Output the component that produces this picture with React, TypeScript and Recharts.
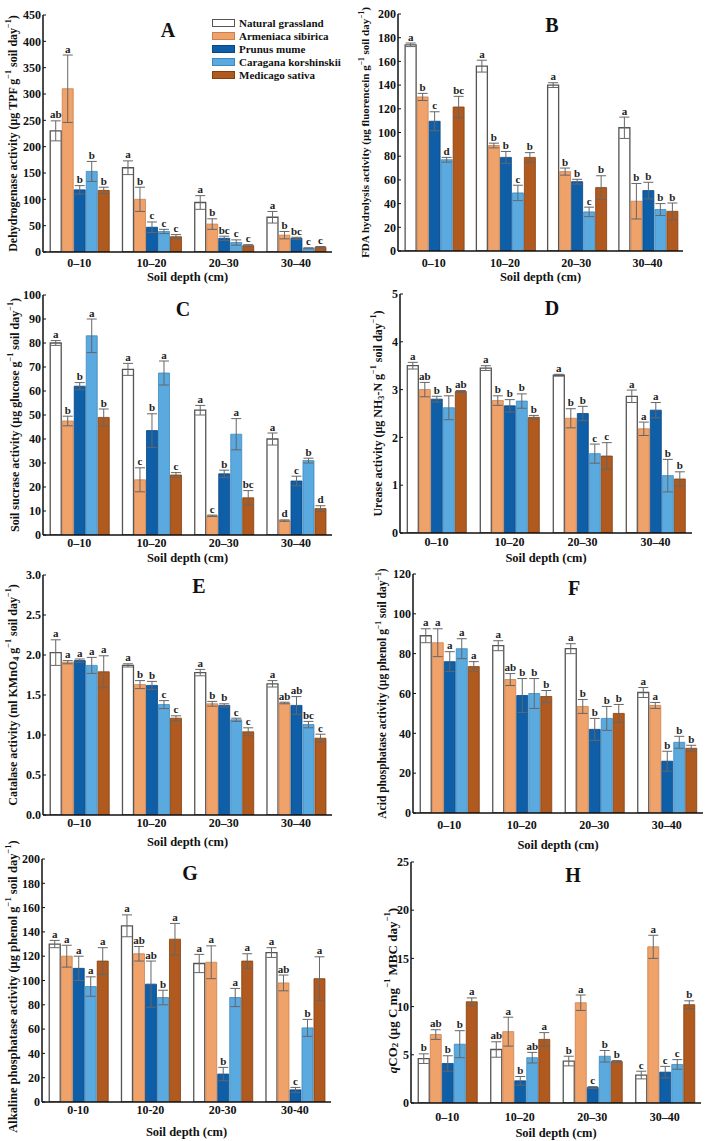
import React from "react";
import { BarChart, Bar, XAxis, YAxis, ErrorBar, LabelList } from "recharts";

// categories
const depths = ["0–10", "10–20", "20–30", "30–40"];
const depthsG = ["0-10", "10-20", "20-30", "30-40"];

const seriesNames = [
  "Natural grassland",
  "Armeniaca sibirica",
  "Prunus mume",
  "Caragana korshinskii",
  "Medicago sativa",
];
const seriesFill = ["#ffffff", "#f0a26b", "#0e5ea8", "#5aaae0", "#b05a1f"];
const seriesStroke = ["#555555", "#c9804f", "#0a4680", "#3d89bf", "#80400f"];

// A: dehydrogenase
const dhaMean = [
  [230, 160, 94, 66],
  [310, 100, 53, 32],
  [118, 47, 26, 26],
  [153, 39, 18, 7],
  [117, 29, 12, 9],
];
const dhaErr = [
  [19, 13, 13, 11],
  [64, 23, 10, 7],
  [8, 10, 4, 2],
  [19, 4, 5, 1],
  [6, 4, 2, 1.5],
];
const dhaSig = [
  ["ab", "a", "a", "a"],
  ["a", "b", "b", "b"],
  ["b", "c", "bc", "bc"],
  ["b", "c", "c", "c"],
  ["b", "c", "c", "c"],
];

// B: FDA hydrolysis
const fdaMean = [
  [174, 156, 140, 104],
  [130, 89, 67, 42],
  [109.5, 79, 58.5, 51],
  [77, 49, 33, 35],
  [121.5, 79, 53.5, 33.5],
];
const fdaErr = [
  [1.5, 5, 2, 9],
  [3, 2, 3, 15],
  [8, 5, 2, 7],
  [2, 6.5, 4, 5],
  [9, 4, 10, 7],
];
const fdaSig = [
  ["a", "a", "a", "a"],
  ["b", "b", "b", "b"],
  ["c", "b", "b", "b"],
  ["d", "c", "c", "b"],
  ["bc", "b", "b", "b"],
];

// C: sucrase
const sucMean = [
  [80, 69, 52, 40],
  [47.5, 23, 8, 6],
  [62, 43.5, 25.5, 22.5],
  [83, 67.5, 42, 31],
  [49, 25, 15.5, 11],
];
const sucErr = [
  [1, 2.5, 2, 2.5],
  [2, 5, 0.3, 0.3],
  [1.5, 7, 1.5, 2],
  [7, 5, 6.5, 1],
  [3.5, 1, 3, 1.2],
];
const sucSig = [
  ["a", "a", "a", "a"],
  ["b", "c", "c", "d"],
  ["b", "b", "b", "c"],
  ["a", "a", "a", "b"],
  ["b", "c", "bc", "d"],
];

// D: urease
const ureMean = [
  [3.5, 3.45, 3.3, 2.86],
  [3.0, 2.77, 2.4, 2.18],
  [2.8, 2.66, 2.5, 2.57],
  [2.62, 2.76, 1.66, 1.2],
  [2.96, 2.42, 1.61, 1.13],
];
const ureErr = [
  [0.07, 0.05, 0.02, 0.13],
  [0.15, 0.1, 0.2, 0.14],
  [0.06, 0.13, 0.15, 0.16],
  [0.25, 0.15, 0.2, 0.34],
  [0.02, 0.04, 0.28, 0.15],
];
const ureSig = [
  ["a", "a", "a", "a"],
  ["ab", "b", "b", "a"],
  ["b", "b", "b", "a"],
  ["b", "b", "c", "b"],
  ["ab", "b", "c", "b"],
];

// E: catalase
const catMean = [
  [2.03, 1.87, 1.78, 1.64],
  [1.91, 1.63, 1.39, 1.4],
  [1.93, 1.62, 1.37, 1.37],
  [1.87, 1.38, 1.19, 1.13],
  [1.79, 1.21, 1.04, 0.96],
];
const catErr = [
  [0.16, 0.02, 0.04, 0.04],
  [0.02, 0.05, 0.03, 0.01],
  [0.02, 0.05, 0.02, 0.11],
  [0.1, 0.05, 0.02, 0.04],
  [0.2, 0.03, 0.05, 0.05],
];
const catSig = [
  ["a", "a", "a", "a"],
  ["a", "b", "b", "ab"],
  ["a", "b", "b", "ab"],
  ["a", "c", "c", "bc"],
  ["a", "c", "c", "c"],
];

// F: acid phosphatase
const acpMean = [
  [89, 84, 82.5, 60.5],
  [85.5, 67, 53.5, 54],
  [76, 59, 42, 26],
  [82.5, 60, 47.5, 35.5],
  [73.5, 58.5, 50, 32.5],
];
const acpErr = [
  [3.5, 2.5, 2.5, 2.5],
  [7, 3, 3.5, 1.5],
  [5, 8.5, 5.5, 5],
  [5, 7.5, 6, 3],
  [2.5, 3, 4.5, 1.5],
];
const acpSig = [
  ["a", "a", "a", "a"],
  ["a", "ab", "b", "a"],
  ["a", "b", "b", "b"],
  ["a", "b", "b", "b"],
  ["a", "b", "b", "b"],
];

// G: alkaline phosphatase
const alpMean = [
  [130, 145, 114, 123],
  [120, 122, 115, 98],
  [110, 97, 23, 10],
  [95, 86, 86, 61],
  [116, 134, 116, 101.5],
];
const alpErr = [
  [3, 9, 7.5, 4],
  [9, 6, 13.5, 6.5],
  [10, 19, 5.5, 2],
  [8, 6, 7.5, 7],
  [11, 13, 6, 18],
];
const alpSig = [
  ["a", "a", "a", "a"],
  ["a", "ab", "a", "ab"],
  ["a", "ab", "b", "c"],
  ["a", "b", "a", "b"],
  ["a", "a", "a", "a"],
];

// H: qCO2
const qcoMean = [
  [4.6, 5.55, 4.35, 2.9],
  [7.1, 7.4, 10.4, 16.2],
  [4.1, 2.3, 1.6, 3.2],
  [6.1, 4.7, 4.85, 4.0],
  [10.5, 6.6, 4.3, 10.2],
];
const qcoErr = [
  [0.5, 0.8, 0.5, 0.4],
  [0.5, 1.5, 0.8, 1.2],
  [0.8, 0.45, 0.1, 0.6],
  [1.4, 0.55, 0.6, 0.5],
  [0.4, 0.7, 0.1, 0.4],
];
const qcoSig = [
  ["b", "ab", "b", "c"],
  ["ab", "a", "a", "a"],
  ["b", "b", "c", "c"],
  ["b", "ab", "b", "c"],
  ["a", "a", "b", "b"],
];

type Part = [string, "n" | "sup" | "sub" | "i"];

const FONT = "'Liberation Serif', 'Times New Roman', serif";

function buildRows(cats: string[], mean: number[][], err: number[][], sig: string[][]) {
  return cats.map((depth, i) => {
    const row: Record<string, string | number> = { depth };
    mean.forEach((s, k) => {
      row[`m${k}`] = s[i];
      row[`e${k}`] = err[k][i];
      row[`s${k}`] = sig[k][i];
    });
    return row;
  });
}

function RichText({ parts, fs }: { parts: Part[]; fs: number }) {
  let shift = 0;
  return (
    <>
      {parts.map(([t, kind], i) => {
        const target = kind === "sup" ? -fs * 0.38 : kind === "sub" ? fs * 0.25 : 0;
        const dy = target - shift;
        shift = target;
        return (
          <tspan
            key={i}
            dy={dy}
            fontSize={kind === "sup" || kind === "sub" ? fs * 0.68 : fs}
            fontStyle={kind === "i" ? "italic" : "normal"}
          >
            {t}
          </tspan>
        );
      })}
    </>
  );
}

function YTitle(props: any) {
  const { viewBox, parts, localX, fs, shiftY } = props;
  const cy = viewBox.y + viewBox.height / 2 + (shiftY || 0);
  return (
    <text
      x={localX}
      y={cy}
      transform={`rotate(-90, ${localX}, ${cy})`}
      textAnchor="middle"
      dominantBaseline="central"
      fontFamily={FONT}
      fontWeight="bold"
      fontSize={fs}
      fill="#111"
    >
      <RichText parts={parts} fs={fs} />
    </text>
  );
}

function XTitle(props: any) {
  const { viewBox, dy } = props;
  return (
    <text
      x={viewBox.x + viewBox.width / 2}
      y={viewBox.y + dy}
      textAnchor="middle"
      dominantBaseline="central"
      fontFamily={FONT}
      fontWeight="bold"
      fontSize={12.5}
      fill="#111"
    >
      Soil depth (cm)
    </text>
  );
}

const sigLabel = (k: number) => (props: any) => {
  const { x, y, width, height, value, index, errs } = props;
  const err = errs[k][index];
  const mean = props.means[k][index];
  const per = mean > 0 ? Number(height) / mean : 0;
  const top = Number(y) - err * per;
  return (
    <text
      x={Number(x) + Number(width) / 2}
      y={top - 2.5}
      textAnchor="middle"
      fontFamily={FONT}
      fontWeight="bold"
      fontSize={11}
      fill="#222"
    >
      {value}
    </text>
  );
};

type PanelProps = {
  letter: string;
  cats: string[];
  mean: number[][];
  err: number[][];
  sig: string[][];
  yMax: number;
  yStep: number;
  decimals?: number;
  title: Part[];
  titleFs: number;
  titleShift?: number;
  boxLeft: number;
  boxTop: number;
  plot: { l: number; t: number; r: number; b: number };
  yTitleX: number;
  tickY: number;
  xTitleY: number;
  letterPos: [number, number];
};

function Panel(p: PanelProps) {
  const rows = buildRows(p.cats, p.mean, p.err, p.sig);
  const ticks: number[] = [];
  for (let v = 0; v <= p.yMax + 1e-9; v += p.yStep) ticks.push(Math.round(v * 1000) / 1000);
  const yw = p.plot.l - p.boxLeft;
  const mt = p.plot.t - p.boxTop;
  const mr = 4;
  const height = p.xTitleY + 10 - p.boxTop;
  const xh = height - (p.plot.b - p.boxTop);
  const width = p.plot.r - p.boxLeft + mr;
  const tickFont = { fontFamily: FONT, fontWeight: "bold", fontSize: 12, fill: "#111" };

  return (
    <>
      <div style={{ position: "absolute", left: p.boxLeft, top: p.boxTop }}>
        <BarChart
          width={width}
          height={height}
          data={rows}
          margin={{ top: mt, right: mr, bottom: 0, left: 0 }}
          barCategoryGap="10%"
          barGap={1}
        >
          <XAxis
            xAxisId="top"
            orientation="top"
            dataKey="depth"
            height={0}
            tick={false}
            tickLine={false}
            axisLine={{ stroke: "#444", strokeWidth: 1.5 }}
          />
          <YAxis
            yAxisId="right"
            orientation="right"
            width={0}
            domain={[0, p.yMax]}
            tick={false}
            tickLine={false}
            axisLine={{ stroke: "#444", strokeWidth: 1.5 }}
          />
          <XAxis
            dataKey="depth"
            height={xh}
            tickLine={false}
            tickSize={0}
            tickMargin={p.tickY - p.plot.b - 4.5}
            axisLine={{ stroke: "#111", strokeWidth: 1.5 }}
            tick={tickFont}
            interval={0}
            label={<XTitle dy={p.xTitleY - p.plot.b} />}
          />
          <YAxis
            width={yw}
            domain={[0, p.yMax]}
            ticks={ticks}
            allowDataOverflow
            tickSize={-3}
            tickMargin={5}
            tickLine={{ stroke: "#111", strokeWidth: 1 }}
            axisLine={{ stroke: "#111", strokeWidth: 1.5 }}
            tick={tickFont}
            tickFormatter={(v: number) => (p.decimals ? v.toFixed(p.decimals) : String(v))}
            label={
              <YTitle
                parts={p.title}
                fs={p.titleFs}
                shiftY={p.titleShift}
                localX={p.yTitleX - p.boxLeft}
              />
            }
          />
          {seriesNames.map((name, k) => (
            <Bar
              key={name}
              dataKey={`m${k}`}
              name={name}
              fill={seriesFill[k]}
              stroke={seriesStroke[k]}
              strokeWidth={k === 0 ? 1.3 : 0.8}
              isAnimationActive={false}
            >
              <ErrorBar dataKey={`e${k}`} width={5} stroke="#666" strokeWidth={1} />
              <LabelList
                dataKey={`s${k}`}
                content={(lp: any) => sigLabel(k)({ ...lp, errs: p.err, means: p.mean })}
              />
            </Bar>
          ))}
        </BarChart>
      </div>
      <div
        style={{
          position: "absolute",
          left: p.letterPos[0] - 20,
          top: p.letterPos[1] - 12,
          width: 40,
          textAlign: "center",
          fontFamily: FONT,
          fontWeight: "bold",
          fontSize: 20,
          lineHeight: "24px",
          color: "#111",
        }}
      >
        {p.letter}
      </div>
    </>
  );
}

function LegendBox() {
  return (
    <div
      style={{
        position: "absolute",
        left: 212,
        top: 17,
        fontFamily: FONT,
        fontWeight: "bold",
        fontSize: 11,
        color: "#111",
      }}
    >
      {seriesNames.map((n, k) => (
        <div key={n} style={{ display: "flex", alignItems: "center", height: 12.9 }}>
          <div
            style={{
              width: 21,
              height: 6,
              background: seriesFill[k],
              border: `1px solid ${seriesStroke[k]}`,
              marginRight: 4,
            }}
          />
          <span>{n}</span>
        </div>
      ))}
    </div>
  );
}

export default function App() {
  return (
    <div style={{ position: "absolute", left: 0, top: 0, width: 709, height: 1141, background: "#fff" }}>
      <Panel
        letter="A"
        cats={depths}
        mean={dhaMean}
        err={dhaErr}
        sig={dhaSig}
        yMax={450}
        yStep={50}
        title={[["Dehydrogenase activity (μg TPF g", "n"], ["−1", "sup"], [" soil day", "n"], ["−1", "sup"], [")", "n"]]}
        titleFs={12}
        boxLeft={0}
        boxTop={0}
        plot={{ l: 43, t: 15, r: 332, b: 252 }}
        yTitleX={13}
        tickY={263}
        xTitleY={277}
        letterPos={[168, 30]}
      />
      <Panel
        letter="B"
        cats={depths}
        mean={fdaMean}
        err={fdaErr}
        sig={fdaSig}
        yMax={200}
        yStep={20}
        title={[["FDA hydrolysis activity (μg fluorencein g", "n"], ["−1", "sup"], [" soil  day", "n"], ["−1", "sup"], [")", "n"]]}
        titleFs={11}
        boxLeft={352}
        boxTop={0}
        plot={{ l: 398, t: 14, r: 683, b: 251 }}
        yTitleX={365}
        tickY={263}
        xTitleY={277}
        letterPos={[552, 25]}
      />
      <Panel
        letter="C"
        cats={depths}
        mean={sucMean}
        err={sucErr}
        sig={sucSig}
        yMax={100}
        yStep={10}
        title={[["Soil sucrase activity (μg glucose g", "n"], ["−1", "sup"], [" soil  day", "n"], ["−1", "sup"], [")", "n"]]}
        titleFs={12}
        boxLeft={0}
        boxTop={282}
        plot={{ l: 43, t: 295, r: 332, b: 535 }}
        yTitleX={15}
        tickY={543}
        xTitleY={558}
        letterPos={[183, 309]}
      />
      <Panel
        letter="D"
        cats={depths}
        mean={ureMean}
        err={ureErr}
        sig={ureSig}
        yMax={5}
        yStep={1}
        title={[["Urease activity (μg NH", "n"], ["3", "sub"], ["-N g", "n"], ["−1", "sup"], [" soil day", "n"], ["−1", "sup"], [")", "n"]]}
        titleFs={12}
        boxLeft={352}
        boxTop={282}
        plot={{ l: 400, t: 294, r: 692, b: 533 }}
        yTitleX={378}
        tickY={542}
        xTitleY={558}
        letterPos={[552, 308]}
      />
      <Panel
        letter="E"
        cats={depths}
        mean={catMean}
        err={catErr}
        sig={catSig}
        yMax={3}
        yStep={0.5}
        decimals={1}
        title={[["Catalase activity (ml KMnO", "n"], ["4", "sub"], [" g", "n"], ["−1", "sup"], [" soil day", "n"], ["−1", "sup"], [")", "n"]]}
        titleFs={12}
        boxLeft={0}
        boxTop={562}
        plot={{ l: 43, t: 575, r: 332, b: 815 }}
        yTitleX={13}
        tickY={823}
        xTitleY={842}
        letterPos={[199, 586]}
      />
      <Panel
        letter="F"
        cats={depths}
        mean={acpMean}
        err={acpErr}
        sig={acpSig}
        yMax={120}
        yStep={20}
        title={[["Acid phosphatase activity (μg phenol g", "n"], ["−1", "sup"], [" soil day", "n"], ["−1", "sup"], [")", "n"]]}
        titleFs={11.5}
        boxLeft={352}
        boxTop={562}
        plot={{ l: 413, t: 574, r: 703, b: 813 }}
        yTitleX={382}
        tickY={825}
        xTitleY={845}
        letterPos={[574, 588]}
      />
      <Panel
        letter="G"
        cats={depthsG}
        mean={alpMean}
        err={alpErr}
        sig={alpSig}
        yMax={200}
        yStep={20}
        title={[["Alkaline phosphatase activity (μg phenol g", "n"], ["−1", "sup"], [" soil day", "n"], ["−1", "sup"], [")", "n"]]}
        titleFs={12.5}
        titleShift={6}
        boxLeft={0}
        boxTop={826}
        plot={{ l: 42, t: 859, r: 331, b: 1102 }}
        yTitleX={13}
        tickY={1110}
        xTitleY={1132}
        letterPos={[190, 873]}
      />
      <Panel
        letter="H"
        cats={depths}
        mean={qcoMean}
        err={qcoErr}
        sig={qcoSig}
        yMax={25}
        yStep={5}
        title={[["q", "i"], ["CO", "n"], ["2", "sub"], [" (μg C mg", "n"], ["−1", "sup"], [" MBC day", "n"], ["−1", "sup"], [")", "n"]]}
        titleFs={13}
        titleShift={8}
        boxLeft={352}
        boxTop={846}
        plot={{ l: 411, t: 862, r: 701, b: 1103 }}
        yTitleX={392}
        tickY={1117}
        xTitleY={1133}
        letterPos={[573, 875]}
      />
      <LegendBox />
    </div>
  );
}
